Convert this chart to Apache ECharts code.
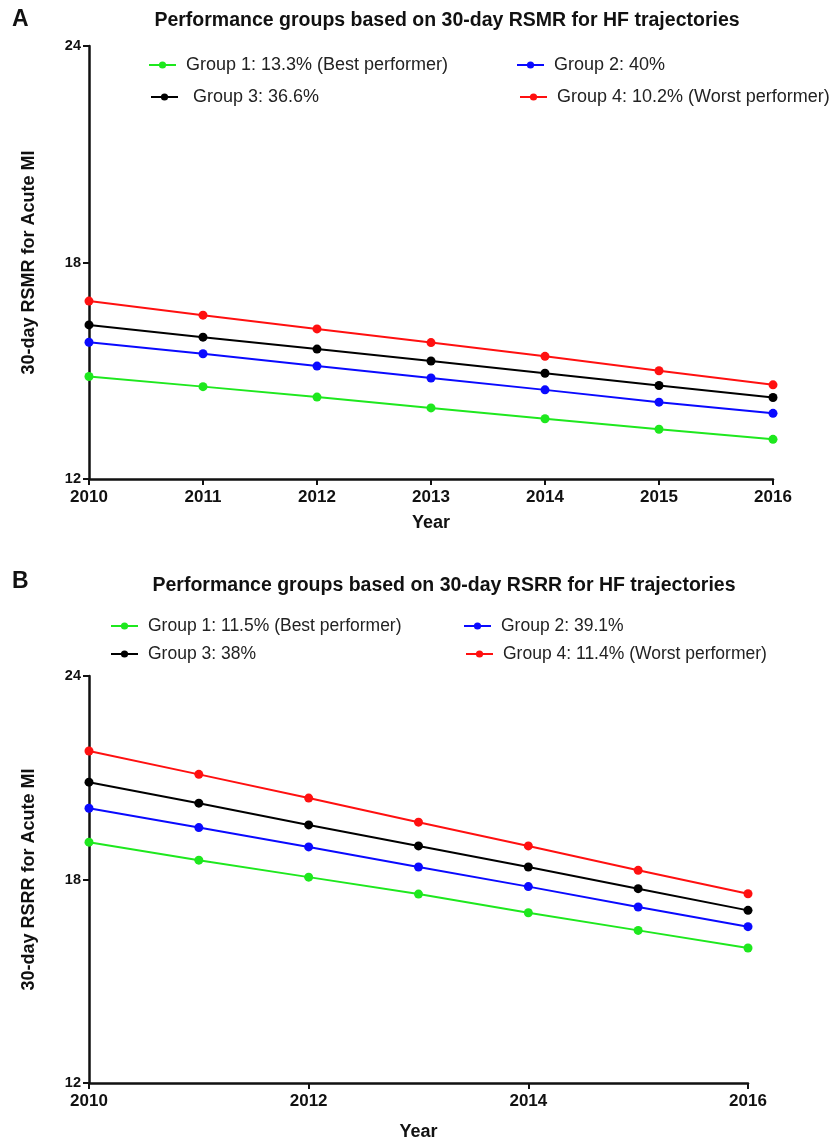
<!DOCTYPE html>
<html>
<head>
<meta charset="utf-8">
<script src="https://cdn.jsdelivr.net/npm/echarts@6/dist/echarts.min.js"></script>
<style>
html,body{margin:0;padding:0;background:#fff;}
#chart{width:834px;height:1143px;}
</style>
</head>
<body>
<div id="chart"></div>
<script>
// ---- Data ----
const years = [2010, 2011, 2012, 2013, 2014, 2015, 2016];

// Panel A: 30-day RSMR
const namesA = ['Group 1: 13.3% (Best performer)', 'Group 2: 40%', ' Group 3: 36.6%', 'Group 4: 10.2% (Worst performer)'];
const a_g1 = [14.84, 14.56, 14.27, 13.97, 13.67, 13.38, 13.10];
const a_g2 = [15.79, 15.47, 15.13, 14.80, 14.47, 14.13, 13.82];
const a_g3 = [16.27, 15.93, 15.60, 15.27, 14.93, 14.59, 14.26];
const a_g4 = [16.93, 16.54, 16.16, 15.78, 15.40, 15.00, 14.61];

// Panel B: 30-day RSRR
const namesB = ['Group 1: 11.5% (Best performer)', 'Group 2: 39.1%', 'Group 3: 38%', 'Group 4: 11.4% (Worst performer)'];
const b_g1 = [19.10, 18.57, 18.07, 17.57, 17.02, 16.50, 15.98];
const b_g2 = [20.10, 19.53, 18.96, 18.37, 17.79, 17.19, 16.61];
const b_g3 = [20.87, 20.25, 19.61, 18.99, 18.37, 17.73, 17.09];
const b_g4 = [21.79, 21.10, 20.40, 19.69, 18.99, 18.27, 17.58];

const yTicks = [12, 18, 24];
const colors = ['#1ee81e', '#0a0aff', '#000000', '#ff1010'];

const FONT = '"Liberation Sans", Arial, sans-serif';

function pairs(arr) { return years.map((y, i) => [y, arr[i]]); }

function mkSeries(names, arrs, idx) {
  return arrs.map((arr, i) => ({
    name: names[i],
    type: 'line',
    xAxisIndex: idx, yAxisIndex: idx,
    data: pairs(arr),
    symbol: 'circle', symbolSize: 9,
    showSymbol: true,
    color: colors[i],
    lineStyle: { width: 2, color: colors[i] },
    itemStyle: { color: colors[i] },
    animation: false,
    z: 3 + i
  }));
}

function xAx(idx, interval, gap) {
  return {
    type: 'value', gridIndex: idx, min: 2010, max: 2016, interval: interval,
    name: 'Year', nameLocation: 'middle', nameGap: gap,
    nameTextStyle: { fontFamily: FONT, fontWeight: 'bold', fontSize: 18, color: '#111' },
    axisLine: { show: true, onZero: false, lineStyle: { color: '#111', width: 2.5 } },
    axisTick: { show: true, length: 6, lineStyle: { color: '#111', width: 2 } },
    axisLabel: { fontFamily: FONT, fontWeight: 'bold', fontSize: 17, color: '#111', margin: 10, formatter: v => String(v) },
    splitLine: { show: false }
  };
}

function yAx(idx, name) {
  return {
    type: 'value', gridIndex: idx, min: 12, max: 24, interval: 6,
    name: name, nameLocation: 'middle', nameGap: 51, nameRotate: 90,
    nameTextStyle: { fontFamily: FONT, fontWeight: 'bold', fontSize: 18, color: '#111' },
    axisLine: { show: true, onZero: false, lineStyle: { color: '#111', width: 2.5 } },
    axisTick: { show: true, length: 6, lineStyle: { color: '#111', width: 2 } },
    axisLabel: { fontFamily: FONT, fontWeight: 'bold', fontSize: 14.5, color: '#111', margin: 8, formatter: v => (yTicks.indexOf(v) >= 0 ? String(v) : '') },
    splitLine: { show: false }
  };
}

function leg(name, left, top, fs) {
  return {
    data: [name], left: left, top: top, orient: 'horizontal',
    padding: 0,
    itemWidth: 27, itemHeight: 9, itemGap: 0,
    selectedMode: false,
    textStyle: { fontFamily: FONT, fontSize: fs, color: '#222', padding: [0, 0, 0, 5] }
  };
}

const option = {
  backgroundColor: '#ffffff',
  animation: false,
  title: [
    { text: 'A', left: 12, top: 8, padding: 0, textStyle: { fontFamily: FONT, fontWeight: 'bold', fontSize: 23, color: '#111' } },
    { text: 'Performance groups based on 30-day RSMR for HF trajectories', left: 447, top: 11, padding: 0, textAlign: 'center',
      textStyle: { fontFamily: FONT, fontWeight: 'bold', fontSize: 19.5, color: '#111' } },
    { text: 'B', left: 12, top: 570, padding: 0, textStyle: { fontFamily: FONT, fontWeight: 'bold', fontSize: 23, color: '#111' } },
    { text: 'Performance groups based on 30-day RSRR for HF trajectories', left: 444, top: 576, padding: 0, textAlign: 'center',
      textStyle: { fontFamily: FONT, fontWeight: 'bold', fontSize: 19.5, color: '#111' } }
  ],
  legend: [
    leg(namesA[0], 148, 56, 18),
    leg(namesA[1], 516, 56, 18),
    leg(namesA[2], 150, 88, 18),
    leg(namesA[3], 519, 88, 18),
    leg(namesB[0], 110, 617, 17.5),
    leg(namesB[1], 463, 617, 17.5),
    leg(namesB[2], 110, 645, 17.5),
    leg(namesB[3], 465, 645, 17.5)
  ],
  grid: [
    { left: 89, top: 46, width: 684, height: 433, containLabel: false },
    { left: 89, top: 676, width: 659, height: 407, containLabel: false }
  ],
  xAxis: [xAx(0, 1, 35), xAx(1, 2, 40)],
  yAxis: [yAx(0, '30-day RSMR for Acute MI'), yAx(1, '30-day RSRR for Acute MI')],
  series: [
    ...mkSeries(namesA, [a_g1, a_g2, a_g3, a_g4], 0),
    ...mkSeries(namesB, [b_g1, b_g2, b_g3, b_g4], 1)
  ]
};

const chart = echarts.init(document.getElementById('chart'), null, { renderer: 'canvas' });
chart.setOption(option);
</script>
</body>
</html>
